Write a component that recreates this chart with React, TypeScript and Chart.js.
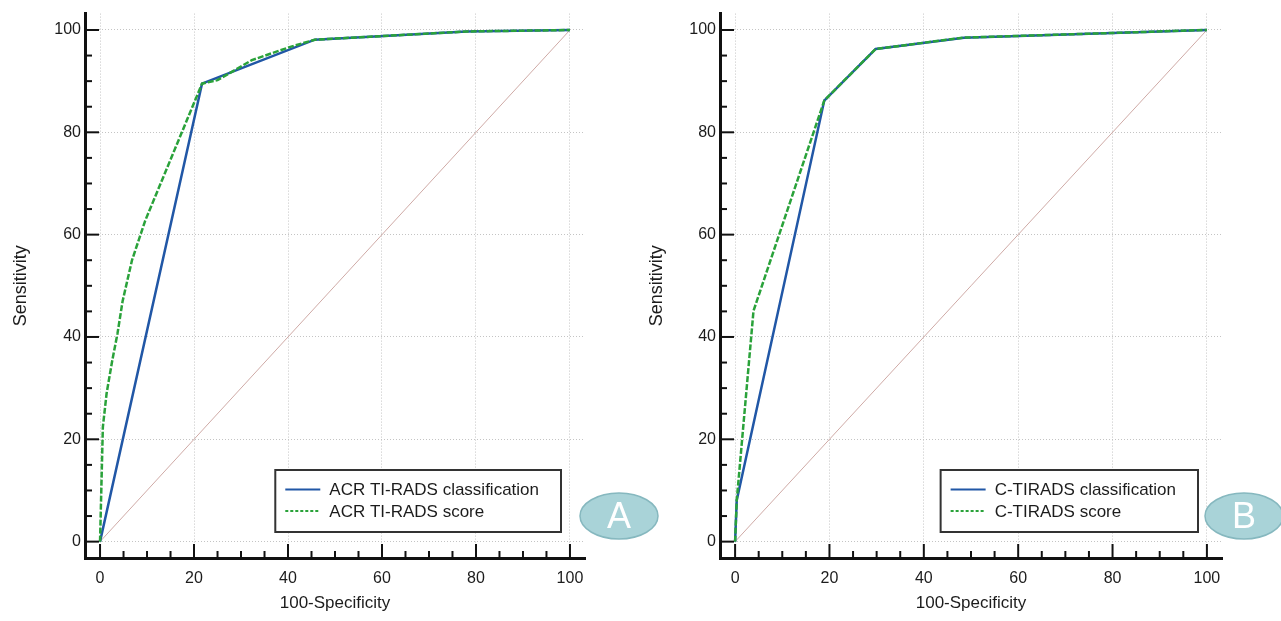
import React, { useEffect, useRef } from "react";
import { Chart, registerables } from "chart.js";

Chart.register(...registerables);

const FONT = "'Liberation Sans', Arial, Helvetica, sans-serif";

// Axis ticks
const TICKS = [0, 20, 40, 60, 80, 100];
const TICK_LABELS = ["0", "20", "40", "60", "80", "100"];
const MINOR_STEP = 5;
const AXIS_MIN = -3.2;
const AXIS_MAX = 103.2;

// Reference diagonal
const DIAG_X = [0, 100];
const DIAG_Y = [0, 100];

// Panel A
const A_CLASS_LABEL = "ACR TI-RADS classification";
const A_SCORE_LABEL = "ACR TI-RADS score";
const A_CLASS_X = [0, 21.7, 45.7, 78, 100];
const A_CLASS_Y = [0, 89.5, 98.1, 99.7, 100];
const A_SCORE_X = [0, 0.6, 1.4, 2.6, 3.7, 4.8, 6.8, 9.6, 21.7, 25, 32.3, 40.5, 45.7, 78, 100];
const A_SCORE_Y = [0, 22.4, 29, 35.4, 40.6, 47, 55, 62.7, 89.5, 90.2, 94.1, 96.7, 98.1, 99.7, 100];

// Panel B
const B_CLASS_LABEL = "C-TIRADS classification";
const B_SCORE_LABEL = "C-TIRADS score";
const B_CLASS_X = [0, 0.35, 18.9, 29.8, 48.5, 100];
const B_CLASS_Y = [0, 8.1, 86.2, 96.3, 98.5, 100];
const B_SCORE_X = [0, 0.35, 3.9, 18.9, 29.8, 48.5, 100];
const B_SCORE_Y = [0, 8.1, 45.1, 86.2, 96.3, 98.5, 100];

const BLUE = "#2157a6";
const GREEN = "#2aa23a";
const DIAG_COLOR = "#cfaaa6";
const GRID_COLOR = "#c4c4c4";
const TEXT_COLOR = "#1c1c1c";

function pts(xs: number[], ys: number[]) {
  return xs.map((x, i) => ({ x, y: ys[i] }));
}

const decorPlugin = {
  id: "decor",
  afterDraw(chart: any, _args: any, opts: any) {
    const ctx: CanvasRenderingContext2D = chart.ctx;
    const { left, right, bottom } = chart.chartArea;
    const xs = chart.scales.x;
    const ys = chart.scales.y;
    const line = (x1: number, y1: number, x2: number, y2: number) => {
      ctx.beginPath();
      ctx.moveTo(x1, y1);
      ctx.lineTo(x2, y2);
      ctx.stroke();
    };
    ctx.save();
    // inward tick marks
    ctx.strokeStyle = "#111";
    ctx.lineWidth = 2;
    for (let v = TICKS[0]; v <= TICKS[TICKS.length - 1]; v += MINOR_STEP) {
      const major = TICKS.includes(v);
      const len = major ? 14 : 7;
      const px = xs.getPixelForValue(v);
      line(px, bottom, px, bottom - len);
      const py = ys.getPixelForValue(v);
      line(left, py, left + len, py);
    }
    // legend box
    const items = chart.data.datasets.filter((d: any) => d.label);
    ctx.font = `17px ${FONT}`;
    const maxW = Math.max(...items.map((d: any) => ctx.measureText(d.label).width));
    const boxW = 54 + maxW + 22;
    const boxH = 62;
    const bx = right - 24 - boxW;
    const by = bottom - 26 - boxH;
    ctx.fillStyle = "#ffffff";
    ctx.fillRect(bx, by, boxW, boxH);
    ctx.strokeStyle = "#333";
    ctx.lineWidth = 2;
    ctx.strokeRect(bx, by, boxW, boxH);
    items.forEach((d: any, i: number) => {
      const cy = by + 19.5 + i * 21.5;
      ctx.strokeStyle = d.borderColor;
      ctx.lineWidth = 2;
      ctx.setLineDash(d.borderDash && d.borderDash.length ? [3, 2] : []);
      line(bx + 10, cy, bx + 45, cy);
      ctx.setLineDash([]);
      ctx.fillStyle = TEXT_COLOR;
      ctx.textBaseline = "middle";
      ctx.textAlign = "left";
      ctx.fillText(d.label, bx + 54, cy + 1);
    });
    // badge
    if (opts && opts.badge) {
      const b = opts.badge;
      ctx.beginPath();
      ctx.ellipse(b.cx, b.cy, 39, 23, 0, 0, Math.PI * 2);
      ctx.fillStyle = "#a9d3d8";
      ctx.fill();
      ctx.strokeStyle = "#86b8bf";
      ctx.lineWidth = 1.5;
      ctx.stroke();
      ctx.fillStyle = "#ffffff";
      ctx.font = `36px ${FONT}`;
      ctx.textAlign = "center";
      ctx.textBaseline = "middle";
      ctx.fillText(b.text, b.cx, b.cy + 2);
    }
    ctx.restore();
  },
};

function buildConfig(p: any) {
  const axisCommon = (title: string, isY: boolean) => ({
    type: "linear",
    min: AXIS_MIN,
    max: AXIS_MAX,
    afterBuildTicks: (s: any) => {
      s.ticks = TICKS.map((v) => ({ value: v }));
    },
    afterFit: (s: any) => {
      if (isY) s.width = p.yAxisWidth;
      else s.height = 63;
    },
    grid: { color: GRID_COLOR, lineWidth: 1, drawTicks: false },
    border: { display: true, color: "#111", width: 3, dash: [1, 2] },
    ticks: {
      padding: isY ? 4 : 11,
      color: TEXT_COLOR,
      font: { size: 16, family: FONT },
      maxRotation: 0,
      autoSkip: false,
      callback: (v: number) => {
        const i = TICKS.indexOf(v);
        return i >= 0 ? TICK_LABELS[i] : "";
      },
    },
    title: {
      display: true,
      text: title,
      color: TEXT_COLOR,
      font: { size: isY ? 18 : 17, family: FONT },
      padding: isY ? { top: p.yTitlePad, bottom: 0 } : { top: 0, bottom: 7 },
    },
  });
  return {
    type: "line",
    data: {
      datasets: [
        {
          label: p.classLabel,
          data: pts(p.classX, p.classY),
          borderColor: BLUE,
          borderWidth: 2.5,
          pointRadius: 0,
          tension: 0,
          fill: false,
          order: 1,
        },
        {
          label: p.scoreLabel,
          data: pts(p.scoreX, p.scoreY),
          borderColor: GREEN,
          borderWidth: 2.5,
          borderDash: [6, 2],
          pointRadius: 0,
          tension: 0,
          fill: false,
          order: 0,
        },
        {
          label: "",
          data: pts(DIAG_X, DIAG_Y),
          borderColor: DIAG_COLOR,
          borderWidth: 1,
          pointRadius: 0,
          tension: 0,
          fill: false,
          order: 2,
        },
      ],
    },
    options: {
      animation: false,
      responsive: false,
      maintainAspectRatio: false,
      devicePixelRatio: 1,
      font: { family: FONT },
      layout: { padding: { left: 0, top: 12, right: p.padRight, bottom: 0 } },
      plugins: {
        legend: { display: false },
        tooltip: { enabled: false },
        decor: { badge: p.badge },
      },
      scales: {
        x: axisCommon("100-Specificity", false),
        y: axisCommon("Sensitivity", true),
      },
    },
    plugins: [decorPlugin],
  };
}

const PANEL_A = {
  classLabel: A_CLASS_LABEL,
  scoreLabel: A_SCORE_LABEL,
  classX: A_CLASS_X,
  classY: A_CLASS_Y,
  scoreX: A_SCORE_X,
  scoreY: A_SCORE_Y,
  yAxisWidth: 85,
  yTitlePad: 10,
  padRight: 95,
  badge: { text: "A", cx: 619, cy: 516 },
};

const PANEL_B = {
  classLabel: B_CLASS_LABEL,
  scoreLabel: B_SCORE_LABEL,
  classX: B_CLASS_X,
  classY: B_CLASS_Y,
  scoreX: B_SCORE_X,
  scoreY: B_SCORE_Y,
  yAxisWidth: 80,
  yTitlePad: 6,
  padRight: 59,
  badge: { text: "B", cx: 604, cy: 516 },
};

export default function App() {
  const refA = useRef<HTMLCanvasElement | null>(null);
  const refB = useRef<HTMLCanvasElement | null>(null);
  useEffect(() => {
    Chart.defaults.font.family = FONT;
    const ca = new Chart(refA.current as HTMLCanvasElement, buildConfig(PANEL_A) as any);
    const cb = new Chart(refB.current as HTMLCanvasElement, buildConfig(PANEL_B) as any);
    return () => {
      ca.destroy();
      cb.destroy();
    };
  }, []);
  return (
    <div style={{ position: "fixed", left: 0, top: 0, width: 1281, height: 621, background: "#fff", overflow: "hidden" }}>
      <canvas
        ref={refA}
        width={680}
        height={621}
        style={{ position: "absolute", left: 0, top: 0, width: 680, height: 621 }}
      />
      <canvas
        ref={refB}
        width={641}
        height={621}
        style={{ position: "absolute", left: 640, top: 0, width: 641, height: 621 }}
      />
    </div>
  );
}
